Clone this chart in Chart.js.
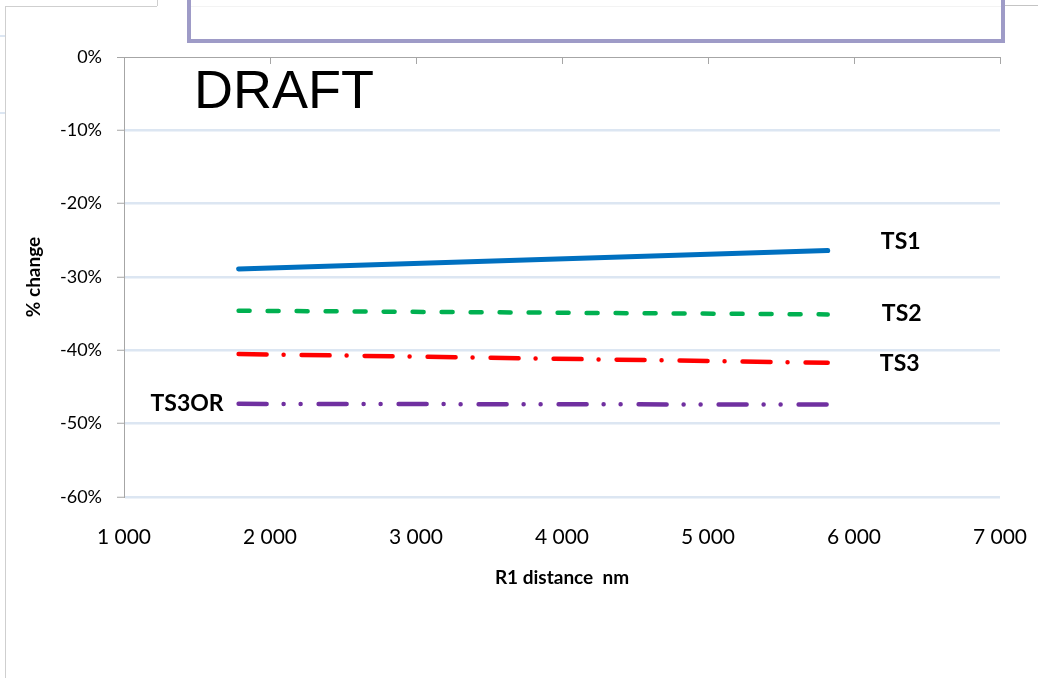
<!DOCTYPE html>
<html>
<head>
<meta charset="utf-8">
<script src="https://cdn.jsdelivr.net/npm/chart.js@4.4.1/dist/chart.umd.min.js"></script>
<style>
html, body { margin: 0; padding: 0; background: #fff; }
#wrap { position: relative; width: 1038px; height: 678px; overflow: hidden; }
#grafica { position: absolute; left: 0; top: 0; }
.deco { position: absolute; box-sizing: content-box; }
</style>
</head>
<body>
<div id="wrap">
    <canvas id="grafica" width="1038" height="678"></canvas>
    <!-- restos de la captura original -->
    <div class="deco" style="left:5px;top:6px;width:0;height:700px;border-left:1px solid #cfcfcf"></div>
    <div class="deco" style="left:5px;top:6px;width:152px;height:0;border-top:1px solid #cfcfcf"></div>
    <div class="deco" style="left:157px;top:-2px;width:0;height:8px;border-left:1px solid #cfcfcf"></div>
    <div class="deco" style="left:0;top:35px;width:5px;height:0;border-top:2px solid #dce6f2"></div>
    <div class="deco" style="left:0;top:112px;width:5px;height:0;border-top:2px solid #dce6f2"></div>
    <div class="deco" style="left:191px;top:6px;width:810px;height:0;border-top:1px solid #f3f3f3"></div>
    <div class="deco" style="left:187px;top:-10px;width:810px;height:45px;border:4px solid #9e9bc7;background:transparent"></div>
    <div class="deco" style="left:1005px;top:5px;width:33px;height:0;border-top:1px solid #c4c4c4"></div>
</div>
<script>
var distancias = [1785, 5820];          // R1 distance nm
var ts1 = [-28.9, -26.4];               // % change
var ts2 = [-34.6, -35.1];
var ts3 = [-40.5, -41.7];
var ts3or = [-47.3, -47.4];
var nombres = ['TS1', 'TS2', 'TS3', 'TS3OR'];
var xTicks = [1000, 2000, 3000, 4000, 5000, 6000, 7000];
var yTicks = [0, -10, -20, -30, -40, -50, -60];

var colores = ['#0070c0', '#00b050', '#ff0000', '#7030a0'];
var guiones = [[], [11, 18], [28, 17, 0, 18], [28, 17, 0, 17, 0, 18]];
var grosores = [5, 4.5, 4.5, 4.5];
// donde va cada etiqueta: extremo de la linea y desplazamiento en px
var posEtiquetas = [
    { punto: 'fin', dx: 73, dy: -9, align: 'center' },
    { punto: 'fin', dx: 74, dy: -1, align: 'center' },
    { punto: 'fin', dx: 72, dy: 1, align: 'center' },
    { punto: 'inicio', dx: -15, dy: 0, align: 'right' }
];

function puntos(ys) {
    var res = [];
    for (var i = 0; i < distancias.length; i++) {
        res.push({ x: distancias[i], y: ys[i] });
    }
    return res;
}

function miles(v) {
    return String(v).replace(/\B(?=(\d{3})+(?!\d))/g, ' ');
}

var series = [ts1, ts2, ts3, ts3or];
var datasets = [];
for (var i = 0; i < series.length; i++) {
    datasets.push({
        label: nombres[i],
        data: puntos(series[i]),
        borderColor: colores[i],
        backgroundColor: colores[i],
        borderWidth: grosores[i],
        borderDash: guiones[i],
        borderCapStyle: 'round',
        pointRadius: 0,
        tension: 0,
        fill: false
    });
}

var etiquetasPlugin = {
    id: 'etiquetas',
    afterDatasetsDraw: function (chart) {
        var ctx = chart.ctx;
        var xs = chart.scales.x;
        var ys = chart.scales.y;
        ctx.save();

        // marcas del eje x (arriba, hacia dentro)
        ctx.strokeStyle = '#a6a6a6';
        ctx.lineWidth = 1;
        xs.ticks.forEach(function (t) {
            var px = Math.round(xs.getPixelForValue(t.value)) + 0.5;
            ctx.beginPath();
            ctx.moveTo(px, ys.getPixelForValue(0));
            ctx.lineTo(px, ys.getPixelForValue(0) + 7);
            ctx.stroke();
        });

        // etiquetas de las series
        ctx.fillStyle = '#000';
        ctx.font = 'bold 23px Lato';
        ctx.textBaseline = 'middle';
        chart.data.datasets.forEach(function (ds, k) {
            var p = posEtiquetas[k];
            var d = p.punto === 'fin' ? ds.data[ds.data.length - 1] : ds.data[0];
            ctx.textAlign = p.align;
            ctx.fillText(ds.label, xs.getPixelForValue(d.x) + p.dx, ys.getPixelForValue(d.y) + p.dy);
        });

        // marca de agua
        ctx.font = '54px "Liberation Sans"';
        ctx.textAlign = 'left';
        ctx.textBaseline = 'alphabetic';
        ctx.fillText('DRAFT', xs.left + 70, ys.top + 51);
        ctx.restore();
    }
};

var config = {
    type: 'line',
    data: { datasets: datasets },
    options: {
        responsive: false,
        animation: false,
        devicePixelRatio: 1,
        layout: { padding: { top: 57, right: 38, bottom: 89, left: 0 } },
        plugins: {
            legend: { display: false },
            tooltip: { enabled: false }
        },
        scales: {
            x: {
                type: 'linear',
                min: 1000,
                max: 7000,
                afterBuildTicks: function (scale) {
                    scale.ticks = xTicks.map(function (v) { return { value: v }; });
                },
                afterFit: function (scale) {
                    scale.height = 92;
                    scale.paddingLeft = 0;
                    scale.paddingRight = 0;
                },
                grid: { display: false },
                border: { display: false },
                ticks: {
                    padding: 20,
                    maxRotation: 0,
                    color: '#000',
                    font: { family: 'Lato', size: 21 },
                    callback: function (v) { return miles(v); }
                },
                title: {
                    display: true,
                    text: 'R1 distance  nm',
                    color: '#000',
                    font: { family: 'Lato', size: 19, weight: 'bold' },
                    padding: { top: 0, bottom: 0 }
                }
            },
            y: {
                min: -60,
                max: 0,
                afterBuildTicks: function (scale) {
                    scale.ticks = yTicks.map(function (v) { return { value: v }; });
                },
                afterFit: function (scale) {
                    scale.width = 124;
                    scale.paddingTop = 0;
                    scale.paddingBottom = 0;
                },
                grid: {
                    color: function (c) { return c.tick && c.tick.value === 0 ? '#a6a6a6' : '#dce6f2'; },
                    lineWidth: function (c) { return c.tick && c.tick.value === 0 ? 1 : 2.5; },
                    tickColor: '#a6a6a6',
                    tickWidth: 1,
                    tickLength: 7
                },
                border: { color: '#a6a6a6', width: 1 },
                ticks: {
                    padding: 15,
                    color: '#000',
                    font: { family: 'Lato', size: 18 },
                    callback: function (v) { return v + '%'; }
                },
                title: {
                    display: true,
                    text: '% change',
                    color: '#000',
                    font: { family: 'Lato', size: 19, weight: 'bold' },
                    padding: { top: 22, bottom: 0 }
                }
            }
        }
    },
    plugins: [etiquetasPlugin]
};

window.onload = function () {
    var ctx = document.getElementById('grafica');
    window.miGrafica = new Chart(ctx, config);
};
</script>
</body>
</html>
